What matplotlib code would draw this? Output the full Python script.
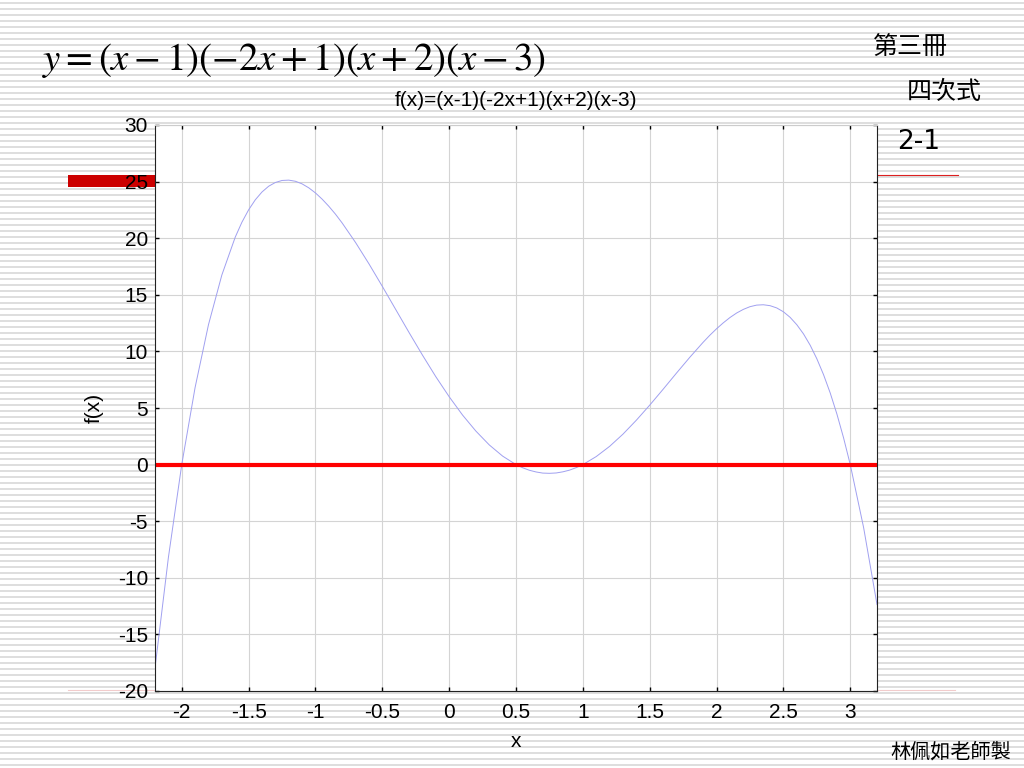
import matplotlib
matplotlib.use("Agg")
import matplotlib.pyplot as plt
from matplotlib.lines import Line2D
from matplotlib.patches import Rectangle

plt.rcParams['font.family'] = ['Liberation Sans', 'DejaVu Sans']
plt.rcParams['mathtext.fontset'] = 'stix'
plt.rcParams['axes.unicode_minus'] = False

# valores (mais pontos perto dos picos)
xs = [-2.2, -2.1, -2.0, -1.9, -1.8, -1.7, -1.6,
      -1.55, -1.5, -1.45, -1.4, -1.35, -1.3, -1.25, -1.2, -1.15, -1.1, -1.05,
      -1.0, -0.95, -0.9, -0.85, -0.8,
      -0.7, -0.6, -0.5, -0.4, -0.3, -0.2, -0.1, 0.0, 0.1, 0.2, 0.3, 0.4,
      0.5, 0.55, 0.6, 0.65, 0.7, 0.75, 0.8, 0.85, 0.9, 0.95, 1.0,
      1.1, 1.2, 1.3, 1.4, 1.5, 1.6, 1.7, 1.8, 1.9,
      1.95, 2.0, 2.05, 2.1, 2.15, 2.2, 2.25, 2.3, 2.35, 2.4, 2.45, 2.5,
      2.55, 2.6, 2.65, 2.7, 2.75, 2.8, 2.85, 2.9, 2.95, 3.0, 3.1, 3.2]
ys = [-17.97, -8.22, 0.0, 6.82, 12.36, 16.75, 20.09,
      21.41, 22.5, 23.39, 24.08, 24.59, 24.92, 25.10, 25.13, 25.03, 24.80, 24.45,
      24.0, 23.45, 22.82, 22.12, 21.34,
      19.62, 17.74, 15.75, 13.71, 11.67, 9.68, 7.77, 6.0, 4.38, 2.96, 1.74, 0.75,
      0.0, -0.28, -0.50, -0.65, -0.75, -0.77, -0.74, -0.64, -0.49, -0.27, 0.0,
      0.71, 1.61, 2.69, 3.92, 5.25, 6.65, 8.08, 9.48, 10.81,
      11.43, 12.0, 12.52, 12.99, 13.39, 13.71, 13.95, 14.09, 14.12, 14.04, 13.84, 13.5,
      13.01, 12.36, 11.55, 10.55, 9.35, 7.95, 6.33, 4.47, 2.36, 0.0, -5.57, -12.36]

xticks = [-2, -1.5, -1, -0.5, 0, 0.5, 1, 1.5, 2, 2.5, 3]
xtick_labels = ['-2', '-1.5', '-1', '-0.5', '0', '0.5', '1', '1.5', '2', '2.5', '3']
yticks = [-20, -15, -10, -5, 0, 5, 10, 15, 20, 25, 30]
ytick_labels = ['-20', '-15', '-10', '-5', '0', '5', '10', '15', '20', '25', '30']

W, H = 1024, 768
fig = plt.figure(figsize=(10.24, 7.68), dpi=100)
fig.patch.set_facecolor('white')

# fundo listrado do slide
bg = fig.add_axes([0, 0, 1, 1], zorder=0)
bg.set_xlim(0, W)
bg.set_ylim(H, 0)
bg.axis('off')
for yy in range(2, H, 6):
    bg.add_patch(Rectangle((0, yy), W, 2, color='#dedede', lw=0))
# enfeites do modelo
bg.add_patch(Rectangle((68, 175), 87, 12, color='#cc0000', lw=0))
bg.add_line(Line2D([877, 958], [175, 175], color='#dd2020', lw=0.8))
bg.add_line(Line2D([68, 155], [690, 690], color='#f2cccc', lw=0.8))
bg.add_line(Line2D([877, 955], [690, 690], color='#f2cccc', lw=0.8))

ax = fig.add_axes([155 / W, 1 - 691 / H, 722 / W, 566 / H], zorder=2)
ax.set_facecolor('white')
ax.plot(xs, ys, color='#a0a0f0', lw=0.7)
ax.axhline(0, color='#ff0000', lw=3)
ax.set_xlim(-2.2, 3.2)
ax.set_ylim(-20, 30)
ax.set_xticks(xticks)
ax.set_xticklabels(xtick_labels)
ax.set_yticks(yticks)
ax.set_yticklabels(ytick_labels)
ax.grid(True, color='#d4d4d4', lw=0.8)
ax.tick_params(direction='in', length=3, width=1, top=True, right=True,
               labelsize=15, pad=5, colors='black')
ax.tick_params(axis='x', pad=9)
for s in ['left', 'right', 'bottom']:
    ax.spines[s].set_color('#222222')
ax.spines['top'].set_color('#cccccc')
ax.set_title('f(x)=(x-1)(-2x+1)(x+2)(x-3)', fontsize=15, pad=14)
ax.set_xlabel('x', fontsize=15, labelpad=7)
ax.set_ylabel('f(x)', fontsize=15, labelpad=10)

fig.text(42 / W, 1 - 61 / H, r'$y=(x-1)(-2x+1)(x+2)(x-3)$', fontsize=28,
         va='center', ha='left', zorder=3)
cjk = ['Noto Sans CJK TC', 'DejaVu Sans']
fig.text(873 / W, 1 - 47 / H, '第三冊', fontsize=18, family=cjk, va='center', ha='left')
fig.text(907 / W, 1 - 92 / H, '四次式', fontsize=18, family=cjk, va='center', ha='left')
fig.text(897 / W, 1 - 142 / H, '2-1', fontsize=19, family=['DejaVu Sans'], va='center', ha='left')
fig.text(890 / W, 1 - 752 / H, '林佩如老師製', fontsize=14.5, family=cjk, va='center', ha='left')

fig.savefig('out.png', dpi=100)
